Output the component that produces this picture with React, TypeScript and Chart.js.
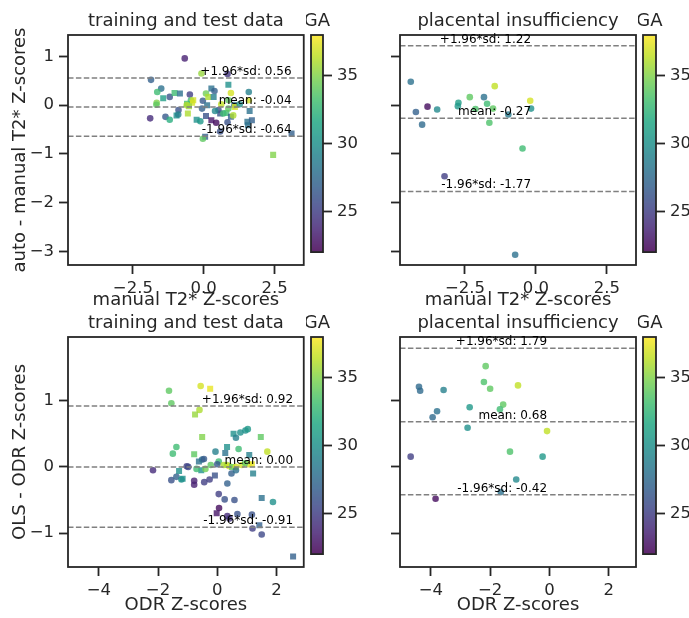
import React, { useEffect, useRef } from 'react';
import { Chart, registerables } from 'chart.js';

Chart.register(...registerables);

const FONT_FAMILY = "'DejaVu Sans', 'Liberation Sans', sans-serif";
Chart.defaults.font.family = FONT_FAMILY;
const INK = '#262626';
const LINE_GRAY = '#808080';

// ---------------- colour scale (GA) ----------------
const GA_MIN = 22;
const GA_MAX = 38;
const GA_TICKS = [25, 30, 35];
const GA_LABEL = 'GA';

// ---------------- titles / labels ----------------
const TITLE_TRAIN = 'training and test data';
const TITLE_PI = 'placental insufficiency';
const XLABEL_TOP = 'manual T2* Z-scores';
const YLABEL_TOP = 'auto - manual T2* Z-scores';
const XLABEL_BOTTOM = 'ODR Z-scores';
const YLABEL_BOTTOM = 'OLS - ODR Z-scores';

// ---------------- axes ----------------
const TOP_X_RANGE = [-4.79, 3.53];
const TOP_Y_RANGE = [-3.28, 1.44];
const BOTTOM_X_RANGE = [-5.04, 2.92];
const BOTTOM_Y_RANGE = [-1.51, 1.96];
const TOP_X_TICKS = [-2.5, 0, 2.5];
const TOP_Y_TICKS = [-3, -2, -1, 0, 1];
const BOTTOM_X_TICKS = [-4, -2, 0, 2];
const BOTTOM_Y_TICKS = [-1, 0, 1];

// ---------------- top-left: training and test data (auto - manual) ----------------
const tlX = [-0.67, -0.08, 0.84, -1.86, -1.50, -1.64, -1.43, -1.66, -1.67, -1.20, -1.03, -0.84, -0.49, -0.45, -0.41, -0.59, -0.52, -1.89, -1.35, -1.20, -0.89, -0.96, -0.90, -0.56, -0.25, -0.12, -0.03, -0.06, 0.08, 0.16, 0.12, 0.27, 0.38, 0.35, 0.08, 0.27, 0.44, 0.05, -0.03, 0.52, 0.58, 0.40, 0.69, 0.80, 0.87, 0.96, 1.08, 1.10, 0.96, 0.84, 1.04, 1.27, 1.59, 1.59, 1.62, 1.54, 1.70, 1.56, 3.10, 2.45, 0.87, 0.58, 0.62, 0.88, -0.37, -0.60];
const tlY = [0.96, 0.65, 0.64, 0.52, 0.34, 0.27, 0.14, 0.05, 0.01, 0.17, 0.25, 0.24, 0.22, 0.10, 0.05, 0.03, -0.02, -0.27, -0.24, -0.30, -0.10, -0.21, -0.19, -0.17, -0.30, -0.33, 0.09, -0.07, 0.24, 0.17, 0.00, 0.34, 0.29, 0.17, -0.22, -0.31, -0.36, -0.65, -0.69, -0.10, -0.17, -0.12, -0.17, -0.16, -0.07, 0.25, 0.00, -0.04, -0.24, -0.35, -0.21, 0.02, 0.10, 0.27, -0.12, -0.34, -0.31, -0.41, -0.58, -1.02, 0.42, -0.54, 0.02, 0.10, 0.10, 0.00];
const tlGA = [23.5, 35.5, 24.5, 27, 28, 33, 31, 35, 34, 26, 33, 28, 25, 33, 37, 33, 35.5, 24, 26.5, 32, 26, 30, 29, 36, 30, 30.5, 26.5, 27, 34.5, 36, 28, 28, 27, 29, 26, 23, 22.5, 27, 34, 26, 26, 29.5, 33, 33, 34, 37, 28, 37, 27, 26, 36, 30, 37, 29, 28, 28, 27, 28, 27, 35, 30, 26, 36.5, 34, 37, 36];
const tlSquare = [0, 0, 0, 0, 0, 0, 1, 0, 0, 0, 1, 1, 0, 0, 1, 1, 1, 0, 0, 0, 0, 1, 0, 1, 1, 0, 0, 0, 0, 1, 1, 1, 0, 1, 1, 1, 0, 1, 0, 0, 1, 0, 0, 1, 0, 0, 0, 1, 1, 0, 0, 0, 0, 0, 1, 1, 1, 1, 1, 1, 1, 0, 0, 0, 1, 0];
const tlLines = [0.56, -0.04, -0.64];
const tlLineLabels = ['+1.96*sd: 0.56', 'mean: -0.04', '-1.96*sd: -0.64'];

// ---------------- top-right: placental insufficiency (auto - manual) ----------------
const trX = [-4.41, -4.23, -3.82, -4.01, -3.48, -2.73, -2.75, -2.33, -2.13, -1.83, -1.72, -1.51, -1.45, -1.64, -0.97, -0.47, -0.20, -0.17, -3.22, -0.73];
const trY = [0.48, -0.14, -0.03, -0.40, -0.09, 0.05, -0.02, 0.165, -0.08, 0.165, 0.03, -0.07, 0.39, -0.36, -0.19, -0.89, 0.09, -0.07, -1.46, -3.07];
const trGA = [28, 27, 22.5, 27.5, 29.5, 31, 30.5, 34, 33.5, 28, 33, 34, 36.5, 33.5, 28.5, 33, 37, 30, 25, 28];
const trLines = [1.22, -0.27, -1.77];
const trLineLabels = ['+1.96*sd: 1.22', 'mean: -0.27', '-1.96*sd: -1.77'];

// ---------------- bottom-left: training and test data (OLS - ODR) ----------------
const blX = [-2.17, -1.63, -1.55, -0.56, -0.24, -0.60, -0.75, -0.51, -1.38, -1.50, -0.78, -0.62, -0.51, -0.45, -1.03, -0.98, -1.29, -1.55, -1.38, -1.21, -1.17, -0.78, -0.78, -0.44, -0.26, -0.08, -0.54, -0.70, -0.40, -0.22, -0.06, 0.05, 0.00, 0.27, 0.33, 0.22, 0.33, 0.41, 0.50, 0.63, 0.83, 1.06, 1.17, 0.94, 0.48, 0.63, 0.55, 0.63, 0.78, 0.95, 1.03, 0.72, 1.08, 1.47, 1.69, 1.21, 0.34, 0.05, 0.25, 0.58, 0.06, -0.02, 0.34, 0.41, 0.68, 1.17, 1.42, 1.19, 1.50, 1.50, 1.88, 2.56];
const blY = [-0.05, 1.15, 0.96, 1.22, 1.18, 0.86, 0.79, 0.45, 0.30, 0.20, 0.19, 0.08, 0.11, 0.12, 0.01, 0.00, -0.06, -0.20, -0.15, -0.19, -0.18, -0.21, -0.27, -0.23, -0.19, -0.13, -0.05, -0.03, -0.03, 0.03, 0.23, 0.08, 0.04, 0.21, 0.30, 0.03, 0.03, 0.01, 0.00, 0.00, 0.03, 0.04, 0.04, 0.06, -0.10, -0.05, 0.50, 0.44, 0.52, 0.55, 0.57, 0.27, 0.18, 0.45, 0.23, -0.10, -0.25, -0.41, -0.49, -0.50, -0.62, -0.70, -0.74, -0.78, -0.71, -0.72, -0.88, -0.93, -1.02, -0.47, -0.53, -1.35];
const blGA = [24, 34, 34, 37, 37.5, 36, 35.5, 35, 33, 33, 34, 28, 28, 26.5, 25, 25.5, 30, 26, 27, 30, 30, 23.5, 23.5, 25, 25, 26, 30, 33, 34.5, 34, 29, 33, 26.5, 28, 30, 36, 36, 37, 34, 37, 37, 37, 37.5, 34, 27, 28, 30, 29, 30, 30, 30.5, 33, 29, 34, 36.5, 29, 27, 25, 26, 26, 22.5, 23, 24, 24.5, 26, 26, 27, 25, 25.5, 28, 30, 27];
const blSquare = [0, 0, 0, 0, 1, 0, 1, 1, 0, 0, 1, 1, 0, 0, 0, 0, 1, 0, 0, 0, 1, 0, 0, 0, 0, 1, 1, 0, 0, 0, 0, 0, 0, 1, 1, 0, 0, 0, 1, 0, 0, 0, 1, 0, 0, 0, 1, 0, 0, 0, 0, 0, 1, 1, 0, 1, 0, 0, 0, 0, 0, 1, 0, 0, 0, 0, 1, 0, 0, 1, 0, 1];
const blLines = [0.92, 0.0, -0.91];
const blLineLabels = ['+1.96*sd: 0.92', 'mean: 0.00', '-1.96*sd: -0.91'];

// ---------------- bottom-right: placental insufficiency (OLS - ODR) ----------------
const brX = [-4.40, -4.36, -3.57, -3.79, -3.94, -4.68, -3.84, -2.69, -2.76, -2.15, -2.21, -2.00, -1.56, -1.67, -1.06, -1.33, -1.12, -1.64, -0.08, -0.23];
const brY = [1.21, 1.15, 1.16, 0.84, 0.75, 0.155, -0.48, 0.90, 0.59, 1.52, 1.28, 1.18, 0.94, 0.87, 1.23, 0.23, -0.19, -0.38, 0.54, 0.155];
const brGA = [27.5, 27.5, 29, 28, 27.5, 25, 22.5, 30.5, 30, 34, 33.5, 34, 34, 33, 36.5, 33.5, 29.5, 28, 36.5, 30.5];
const brLines = [1.79, 0.68, -0.42];
const brLineLabels = ['+1.96*sd: 1.79', 'mean: 0.68', '-1.96*sd: -0.42'];

// ---------------- viridis ----------------
const VIRIDIS = [
  [68, 1, 84], [72, 36, 117], [65, 68, 135], [53, 95, 141], [42, 120, 142],
  [33, 145, 140], [34, 168, 132], [68, 191, 112], [122, 209, 81], [189, 223, 38], [253, 231, 37],
];
function viridis(t: number): number[] {
  const c = Math.max(0, Math.min(1, t)) * (VIRIDIS.length - 1);
  const i = Math.min(VIRIDIS.length - 2, Math.floor(c));
  const f = c - i;
  const a = VIRIDIS[i], b = VIRIDIS[i + 1];
  return [0, 1, 2].map((k) => Math.round(a[k] + (b[k] - a[k]) * f));
}
function gaColor(g: number, alpha: number): string {
  const [r, gg, b] = viridis((g - GA_MIN) / (GA_MAX - GA_MIN));
  return `rgba(${r},${gg},${b},${alpha})`;
}
const fmt1 = (v: number) => v.toFixed(1).replace('-', '\u2212');
const fmt0 = (v: number) => String(Math.round(v)).replace('-', '\u2212');

// ---------------- geometry ----------------
const ROWS = {
  top: { areaTop: 35, areaBottom: 265, canvasTop: 0, xAxisH: 46 },
  bottom: { areaTop: 337, areaBottom: 567, canvasTop: 310, xAxisH: 49 },
};
const COLS = {
  left: { areaLeft: 68, areaRight: 306, canvasLeft: 0, yAxisW: 68, cbLeft: 311, cbRight: 323, cbAxisW: 40 },
  right: { areaLeft: 400, areaRight: 638, canvasLeft: 391, yAxisW: 9, cbLeft: 643, cbRight: 656, cbAxisW: 33 },
};

type PanelSpec = {
  row: 'top' | 'bottom';
  col: 'left' | 'right';
  title: string;
  xLabel: string;
  yLabel: string | null;
  xs: number[];
  ys: number[];
  ga: number[];
  square: number[];
  lines: number[];
  lineLabels: string[];
  xRange: number[];
  yRange: number[];
  xTicks: number[];
  yTicks: number[];
  xFmt: (v: number) => string;
  yFmt: (v: number) => string;
};

const framePlugin = {
  id: 'frame',
  afterDraw(chart: any) {
    const { ctx, chartArea: a } = chart;
    ctx.save();
    ctx.strokeStyle = INK;
    ctx.lineWidth = 1.8;
    ctx.strokeRect(a.left, a.top, a.right - a.left, a.bottom - a.top);
    ctx.restore();
  },
};

function makePanelChart(canvas: HTMLCanvasElement, p: PanelSpec) {
  const row = ROWS[p.row];
  const col = COLS[p.col];
  const points = p.xs.map((x, i) => ({ x, y: p.ys[i] }));
  const colors = p.ga.map((g) => gaColor(g, 0.8));
  const styles = p.square.map((s) => (s ? 'rect' : 'circle'));
  const radii = p.square.map((s) => (s ? 4.25 : 3.3));
  const maxX = Math.max(...p.xs);
  const lineSets = p.lines.map((v) => ({
    type: 'line',
    data: [{ x: p.xRange[0], y: v }, { x: p.xRange[1], y: v }],
    borderColor: LINE_GRAY,
    borderWidth: 1.5,
    borderDash: [5.5, 2.4],
    pointRadius: 0,
    fill: false,
    order: 0,
  }));
  const textPlugin = {
    id: 'texts',
    afterDraw(chart: any) {
      const { ctx, chartArea: a, scales } = chart;
      ctx.save();
      ctx.fillStyle = INK;
      ctx.font = `18px ${FONT_FAMILY}`;
      ctx.textAlign = 'center';
      ctx.textBaseline = 'alphabetic';
      ctx.fillText(p.title, (a.left + a.right) / 2, a.top - 9);
      ctx.fillStyle = '#000';
      ctx.font = `12px ${FONT_FAMILY}`;
      ctx.textAlign = 'right';
      const px = scales.x.getPixelForValue(maxX);
      p.lines.forEach((v, i) => {
        ctx.fillText(p.lineLabels[i], px, scales.y.getPixelForValue(v) - 3);
      });
      ctx.restore();
    },
  };
  const tickFont = { family: FONT_FAMILY, size: 16.5 };
  const labelFont = { family: FONT_FAMILY, size: 18 };
  const grid = { drawOnChartArea: false, drawTicks: true, tickLength: 9, tickWidth: 1.8, tickColor: INK };
  return new Chart(canvas, {
    type: 'scatter',
    data: {
      datasets: [
        ...(lineSets as any[]),
        {
          type: 'scatter',
          data: points,
          backgroundColor: colors,
          pointBackgroundColor: colors,
          pointStyle: styles,
          pointRadius: radii,
          borderWidth: 0,
          pointBorderWidth: 0,
          order: 1,
        },
      ],
    },
    options: {
      animation: false,
      responsive: false,
      maintainAspectRatio: false,
      events: [],
      layout: { padding: { left: 0, right: 2, top: row.areaTop - row.canvasTop, bottom: 0 } },
      plugins: { legend: { display: false }, tooltip: { enabled: false }, title: { display: false } },
      scales: {
        x: {
          type: 'linear',
          min: p.xRange[0],
          max: p.xRange[1],
          afterBuildTicks: (s: any) => { s.ticks = p.xTicks.map((v) => ({ value: v })); },
          afterFit: (s: any) => { s.height = row.xAxisH; },
          ticks: { callback: (v: any) => p.xFmt(Number(v)), font: tickFont, color: INK, padding: 5, maxRotation: 0, autoSkip: false },
          grid,
          border: { display: false },
          title: { display: true, text: p.xLabel, font: labelFont, color: INK, padding: { top: 0, bottom: 0 } },
        },
        y: {
          type: 'linear',
          min: p.yRange[0],
          max: p.yRange[1],
          afterBuildTicks: (s: any) => { s.ticks = p.yTicks.map((v) => ({ value: v })); },
          afterFit: (s: any) => { s.width = col.yAxisW; },
          ticks: { display: p.yLabel !== null, callback: (v: any) => p.yFmt(Number(v)), font: tickFont, color: INK, padding: 5, autoSkip: false },
          grid,
          border: { display: false },
          title: { display: p.yLabel !== null, text: p.yLabel || '', font: labelFont, color: INK, padding: { top: 10, bottom: 0 } },
        },
      },
    } as any,
    plugins: [framePlugin, textPlugin],
  } as any);
}

function makeColorbarChart(canvas: HTMLCanvasElement, rowKey: 'top' | 'bottom', colKey: 'left' | 'right') {
  const row = ROWS[rowKey];
  const col = COLS[colKey];
  const gradientPlugin = {
    id: 'gradient',
    beforeDatasetsDraw(chart: any) {
      const { ctx, chartArea: a, scales } = chart;
      ctx.save();
      ctx.fillStyle = '#fff';
      ctx.fillRect(a.left, a.top, a.right - a.left, a.bottom - a.top);
      for (let py = Math.floor(a.top); py < a.bottom; py++) {
        const v = scales.y.getValueForPixel(py + 0.5);
        ctx.fillStyle = gaColor(v, 0.85);
        ctx.fillRect(a.left, py, a.right - a.left, 1);
      }
      ctx.restore();
    },
    afterDraw(chart: any) {
      const { ctx, chartArea: a } = chart;
      ctx.save();
      ctx.fillStyle = INK;
      ctx.font = `18px ${FONT_FAMILY}`;
      ctx.textAlign = 'center';
      ctx.textBaseline = 'alphabetic';
      ctx.fillText(GA_LABEL, (a.left + a.right) / 2, a.top - 9);
      ctx.restore();
    },
  };
  return new Chart(canvas, {
    type: 'scatter',
    data: { datasets: [] },
    options: {
      animation: false,
      responsive: false,
      maintainAspectRatio: false,
      events: [],
      layout: { padding: { left: 5, right: 0, top: row.areaTop - row.canvasTop, bottom: 2 } },
      plugins: { legend: { display: false }, tooltip: { enabled: false } },
      scales: {
        x: { type: 'linear', display: false, min: 0, max: 1 },
        y: {
          type: 'linear',
          position: 'right',
          min: GA_MIN,
          max: GA_MAX,
          afterBuildTicks: (s: any) => { s.ticks = GA_TICKS.map((v) => ({ value: v })); },
          afterFit: (s: any) => { s.width = col.cbAxisW; },
          ticks: { font: { family: FONT_FAMILY, size: 16.5 }, color: INK, padding: 5, autoSkip: false, callback: (v: any) => fmt0(Number(v)) },
          grid: { drawOnChartArea: false, drawTicks: true, tickLength: 9, tickWidth: 1.8, tickColor: INK },
          border: { display: false },
        },
      },
    } as any,
    plugins: [gradientPlugin, framePlugin],
  } as any);
}

function Panel({ spec }: { spec: PanelSpec }) {
  const ref = useRef<HTMLCanvasElement>(null);
  const row = ROWS[spec.row];
  const col = COLS[spec.col];
  const w = col.areaRight + 2 - col.canvasLeft;
  const h = row.areaBottom + row.xAxisH - row.canvasTop;
  useEffect(() => {
    const c = makePanelChart(ref.current!, spec);
    return () => c.destroy();
  }, []);
  return (
    <canvas
      ref={ref}
      width={w}
      height={h}
      style={{ position: 'absolute', left: col.canvasLeft, top: row.canvasTop, width: w, height: h }}
    />
  );
}

function ColorBar({ rowKey, colKey }: { rowKey: 'top' | 'bottom'; colKey: 'left' | 'right' }) {
  const ref = useRef<HTMLCanvasElement>(null);
  const row = ROWS[rowKey];
  const col = COLS[colKey];
  const left = col.cbLeft - 5;
  const w = 5 + (col.cbRight - col.cbLeft) + col.cbAxisW;
  const h = row.areaBottom + 2 - row.canvasTop;
  useEffect(() => {
    const c = makeColorbarChart(ref.current!, rowKey, colKey);
    return () => c.destroy();
  }, []);
  return (
    <canvas
      ref={ref}
      width={w}
      height={h}
      style={{ position: 'absolute', left, top: row.canvasTop, width: w, height: h }}
    />
  );
}

const PANELS: PanelSpec[] = [
  {
    row: 'top', col: 'left', title: TITLE_TRAIN, xLabel: XLABEL_TOP, yLabel: YLABEL_TOP,
    xs: tlX, ys: tlY, ga: tlGA, square: tlSquare, lines: tlLines, lineLabels: tlLineLabels,
    xRange: TOP_X_RANGE, yRange: TOP_Y_RANGE, xTicks: TOP_X_TICKS, yTicks: TOP_Y_TICKS, xFmt: fmt1, yFmt: fmt0,
  },
  {
    row: 'top', col: 'right', title: TITLE_PI, xLabel: XLABEL_TOP, yLabel: null,
    xs: trX, ys: trY, ga: trGA, square: trX.map(() => 0), lines: trLines, lineLabels: trLineLabels,
    xRange: TOP_X_RANGE, yRange: TOP_Y_RANGE, xTicks: TOP_X_TICKS, yTicks: TOP_Y_TICKS, xFmt: fmt1, yFmt: fmt0,
  },
  {
    row: 'bottom', col: 'left', title: TITLE_TRAIN, xLabel: XLABEL_BOTTOM, yLabel: YLABEL_BOTTOM,
    xs: blX, ys: blY, ga: blGA, square: blSquare, lines: blLines, lineLabels: blLineLabels,
    xRange: BOTTOM_X_RANGE, yRange: BOTTOM_Y_RANGE, xTicks: BOTTOM_X_TICKS, yTicks: BOTTOM_Y_TICKS, xFmt: fmt0, yFmt: fmt0,
  },
  {
    row: 'bottom', col: 'right', title: TITLE_PI, xLabel: XLABEL_BOTTOM, yLabel: null,
    xs: brX, ys: brY, ga: brGA, square: brX.map(() => 0), lines: brLines, lineLabels: brLineLabels,
    xRange: BOTTOM_X_RANGE, yRange: BOTTOM_Y_RANGE, xTicks: BOTTOM_X_TICKS, yTicks: BOTTOM_Y_TICKS, xFmt: fmt0, yFmt: fmt0,
  },
];

export default function App() {
  return (
    <div style={{ position: 'absolute', left: 0, top: 0, width: 689, height: 618, background: '#fff', overflow: 'hidden' }}>
      {PANELS.map((p, i) => (
        <Panel key={i} spec={p} />
      ))}
      <ColorBar rowKey="top" colKey="left" />
      <ColorBar rowKey="top" colKey="right" />
      <ColorBar rowKey="bottom" colKey="left" />
      <ColorBar rowKey="bottom" colKey="right" />
    </div>
  );
}
